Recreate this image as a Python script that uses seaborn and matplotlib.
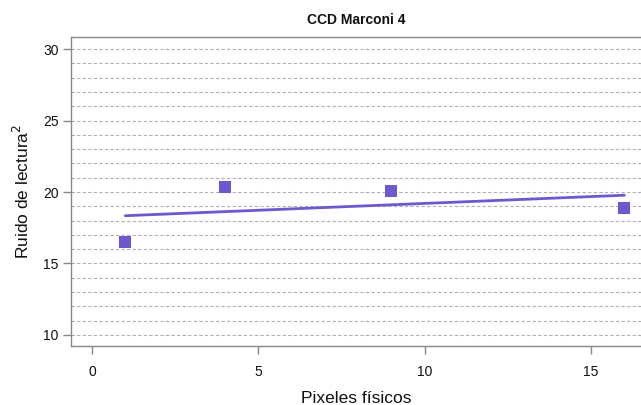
import matplotlib
matplotlib.use("Agg")
import matplotlib.pyplot as plt
import seaborn as sns
import pandas as pd
import numpy as np

pixeles = [1, 4, 9, 16]
ruido = [16.5, 20.35, 20.1, 18.9]
x_ticks = [0, 5, 10, 15]
y_ticks = [10, 15, 20, 25, 30]
grid_levels = list(range(10, 31))

sns.set_theme(style="white")
plt.rcParams['font.family'] = ['Liberation Sans', 'DejaVu Sans']

df = pd.DataFrame({"x": pixeles, "y": ruido})
color = "#6A5ACD"

fig = plt.figure(figsize=(6.41, 4.05), dpi=100)
ax = fig.add_axes([71/641, 1 - 346/405, (641 - 71)/641, (346 - 37)/405])

for g in grid_levels:
    ax.axhline(g, color="#b0b0b0", lw=0.8, ls=(0, (3, 2)), zorder=0)

sns.regplot(data=df, x="x", y="y", ci=None, ax=ax, color=color,
            marker="s", scatter_kws={"s": 75, "alpha": 1, "edgecolor": "none", "zorder": 3},
            line_kws={"lw": 2, "zorder": 2})

ax.set_xlim(-0.63, 16.5)
ax.set_ylim(9.23, 30.84)
ax.set_xticks(x_ticks)
ax.set_yticks(y_ticks)
ax.set_xlabel("Pixeles físicos", fontsize=12.5, labelpad=8, color="#111111")
ax.set_ylabel("Ruido de lectura$^2$", fontsize=12.5, labelpad=8, color="#111111")
ax.set_title("CCD Marconi 4", fontsize=10, fontweight="bold", pad=9, color="#111111")

for s in ["left", "bottom", "top"]:
    ax.spines[s].set_color("#888888")
    ax.spines[s].set_linewidth(1)
ax.spines["right"].set_visible(False)
ax.tick_params(axis="both", which="both", direction="out", length=6, width=1,
               color="#888888", labelsize=10, labelcolor="#111111")
ax.tick_params(axis="x", pad=8)
ax.tick_params(axis="y", pad=3, left=True)
ax.tick_params(axis="x", bottom=True)

fig.savefig("out.png", dpi=100)
